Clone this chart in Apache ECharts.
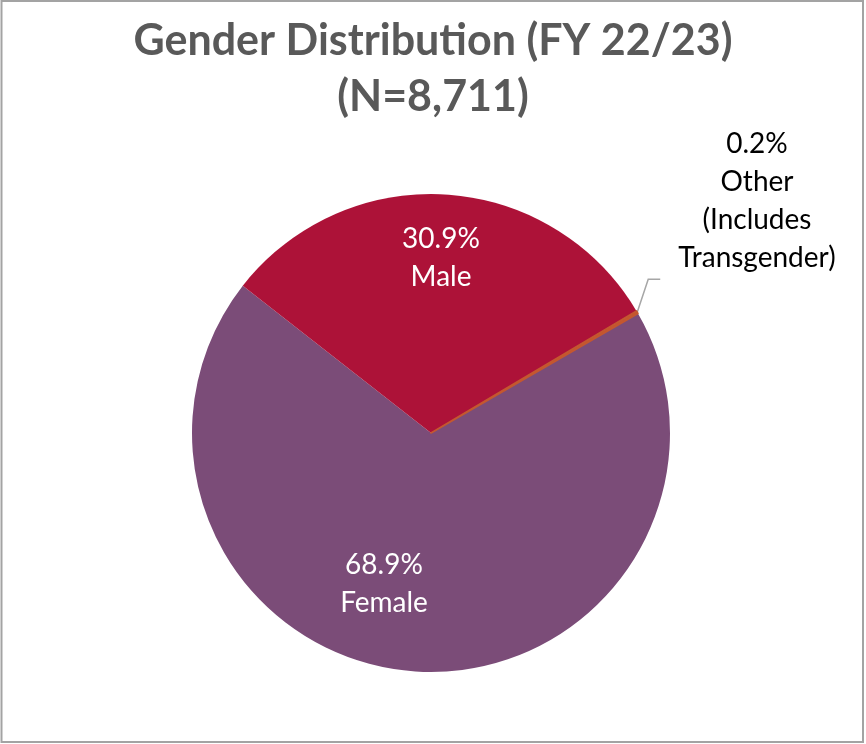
<!DOCTYPE html>
<html>
<head>
<meta charset="utf-8">
<script src="https://cdn.jsdelivr.net/npm/echarts@6/dist/echarts.min.js"></script>
<style>
html,body{margin:0;padding:0;background:#fff;}
#chart{width:866px;height:744px;}
</style>
</head>
<body>
<div id="chart"></div>
<script>
// ---- data ----
const categories = ['Female', 'Male', 'Other'];
const labelNames = ['Female', 'Male', 'Other\n(Includes\nTransgender)'];
const percents = [68.9, 30.9, 0.2];
const titleText = 'Gender Distribution (FY 22/23)\n(N=8,711)';

// ---- style / layout ----
const colors = ['#7B4C78', '#AD1238', '#C4572F'];
const CX = 431, CY = 433, R = 239;
// label offsets relative to pie center
const labelOffsets = [[-47, 151], [10, -175], [326, -232]];
const FONT = 'Lato, "Open Sans", sans-serif';

const chart = echarts.init(document.getElementById('chart'));
const data = categories.map((c, i) => ({
  name: labelNames[i],
  value: percents[i],
  itemStyle: i === 2 ? { color: colors[i], borderColor: colors[i], borderWidth: 1.6 } : { color: colors[i] },
  label: i === 2 ? { color: '#000', position: 'outside' } : { color: '#fff', position: 'inside' },
  labelLine: { show: i === 2 }
}));

chart.setOption({
  animation: false,
  title: {
    text: titleText,
    left: 'center',
    top: 8,
    textStyle: { fontFamily: FONT, fontWeight: 'bold', fontSize: 43, color: '#595959', lineHeight: 56 }
  },
  graphic: [{
    type: 'rect', silent: true,
    shape: { x: 1.5, y: 1, width: 861.5, height: 741 },
    style: { fill: 'none', stroke: '#A3A3A3', lineWidth: 2 }
  }],
  series: [{
    type: 'pie',
    center: [CX, CY],
    radius: R,
    startAngle: 30,
    clockwise: true,
    data: data,
    label: {
      formatter: p => p.value.toFixed(1) + '%\n' + p.name,
      fontFamily: FONT, fontSize: 28, lineHeight: 38, align: 'center'
    },
    labelLine: { lineStyle: { color: '#A6A6A6', width: 1.5 }, length: 30, length2: 12 },
    labelLayout: function (p) {
      const i = p.dataIndex;
      const o = labelOffsets[i];
      const res = { x: CX + o[0], y: CY + o[1], align: 'center', verticalAlign: 'middle' };
      if (i === 2) {
        const total = percents.reduce((a, b) => a + b, 0);
        let before = 0; for (let k = 0; k < i; k++) before += percents[k];
        const midDeg = 30 - (before + percents[i] / 2) / total * 360;
        const a = midDeg * Math.PI / 180;
        const sx = CX + R * Math.cos(a), sy = CY - R * Math.sin(a);
        res.labelLinePoints = [[sx, sy], [sx + 11, sy - 33], [sx + 23, sy - 33]];
      }
      return res;
    }
  }]
});
</script>
</body>
</html>
